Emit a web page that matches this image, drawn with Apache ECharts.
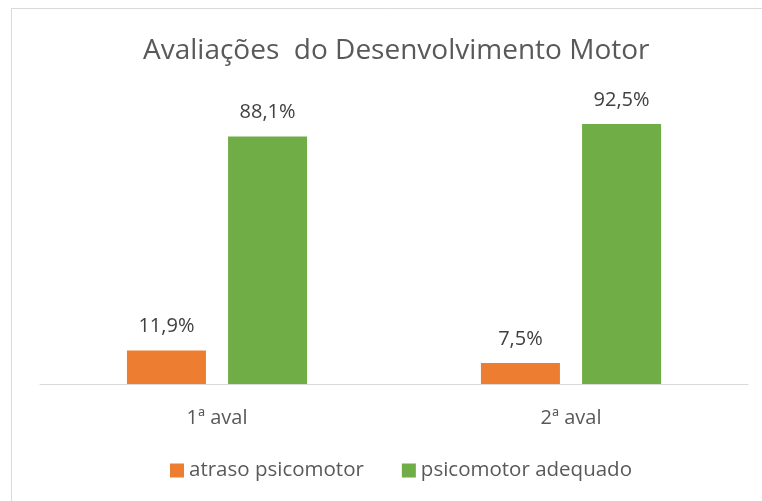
<!DOCTYPE html>
<html>
<head>
<meta charset="utf-8">
<script src="https://cdn.jsdelivr.net/npm/echarts@6/dist/echarts.min.js"></script>
<style>
  html, body { margin: 0; padding: 0; background: #fff; }
  #chart { width: 762px; height: 501px; }
</style>
</head>
<body>
<div id="chart"></div>
<script>
  // dados
  const categorias = ['1ª aval', '2ª aval']
  const atraso = [11.9, 7.5]
  const adequado = [88.1, 92.5]

  const fonte = '"Open Sans", "Noto Sans", sans-serif'
  const fmt = p => String(p.value).replace('.', ',') + '%'

  var myChart = echarts.init(document.getElementById('chart'))
  var option = {
    animation: false,
    color: ['#ED7D31', '#70AD47'],
    title: {
      text: 'Avaliações  do Desenvolvimento Motor',
      left: 138,
      top: 32,
      textStyle: { fontFamily: fonte, fontSize: 28, fontWeight: 'normal', color: '#595959' }
    },
    graphic: [{
      type: 'rect',
      shape: { x: 11.5, y: 8.5, width: 800, height: 600 },
      style: { fill: 'none', stroke: '#d9d9d9', lineWidth: 1 }
    }],
    legend: {
      data: ['atraso psicomotor', 'psicomotor adequado'],
      left: 165,
      top: 455,
      itemWidth: 14,
      itemHeight: 14,
      itemGap: 38,
      icon: 'rect',
      textStyle: { fontFamily: fonte, fontSize: 20.5, color: '#595959' }
    },
    grid: { left: 40, right: 14, top: 103, bottom: 117 },
    xAxis: {
      type: 'category',
      data: categorias,
      axisLine: { lineStyle: { color: '#d9d9d9', width: 1 } },
      axisTick: { show: false },
      axisLabel: { fontFamily: fonte, fontSize: 20, color: '#595959', margin: 24 }
    },
    yAxis: {
      type: 'value',
      min: 0,
      max: 100,
      show: false
    },
    series: [
      {
        name: 'atraso psicomotor',
        type: 'bar',
        data: atraso,
        barWidth: 79,
        barGap: '28%',
        label: { show: true, position: 'top', distance: 14, formatter: fmt,
          fontFamily: fonte, fontSize: 20, color: '#404040' }
      },
      {
        name: 'psicomotor adequado',
        type: 'bar',
        data: adequado,
        barWidth: 79,
        label: { show: true, position: 'top', distance: 14, formatter: fmt,
          fontFamily: fonte, fontSize: 20, color: '#404040' }
      }
    ]
  }
  myChart.setOption(option)
</script>
</body>
</html>
